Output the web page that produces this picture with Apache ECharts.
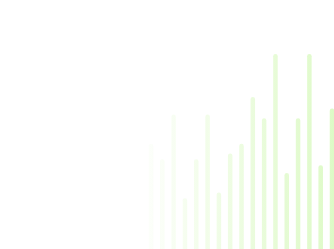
<!DOCTYPE html>
<html><head><meta charset="utf-8">
<script src="https://cdn.jsdelivr.net/npm/echarts@6/dist/echarts.min.js"></script>
<style>html,body{margin:0;padding:0;background:#fff}#c{width:334px;height:249px}</style>
</head><body><div id="c"></div>
<script>
var categories = ['1','2','3','4','5','6','7','8','9','10','11','12','13','14','15','16','17'];
var values = [54,46,69,26,46,69,29,49,54,78,67,100,39,67,100,43,72];

var chart = echarts.init(document.getElementById('c'), null, {renderer:'canvas'});
chart.setOption({
  animation:false,
  grid:{left:151,right:2,top:54,bottom:0},
  xAxis:{type:'category',data:categories,boundaryGap:false,show:false},
  yAxis:{type:'value',min:0,max:100,show:false},
  series:[{
    type:'bar',
    data:values,
    barWidth:4.5,
    clip:false,
    itemStyle:{
      borderRadius:[2.2,2.2,0,0],
      color:new echarts.graphic.LinearGradient(130,0,334,0,[
        {offset:0,color:'rgba(210,248,180,0)'},
        {offset:1,color:'rgba(210,248,180,0.75)'}
      ],true)
    }
  }]
});
</script></body></html>
